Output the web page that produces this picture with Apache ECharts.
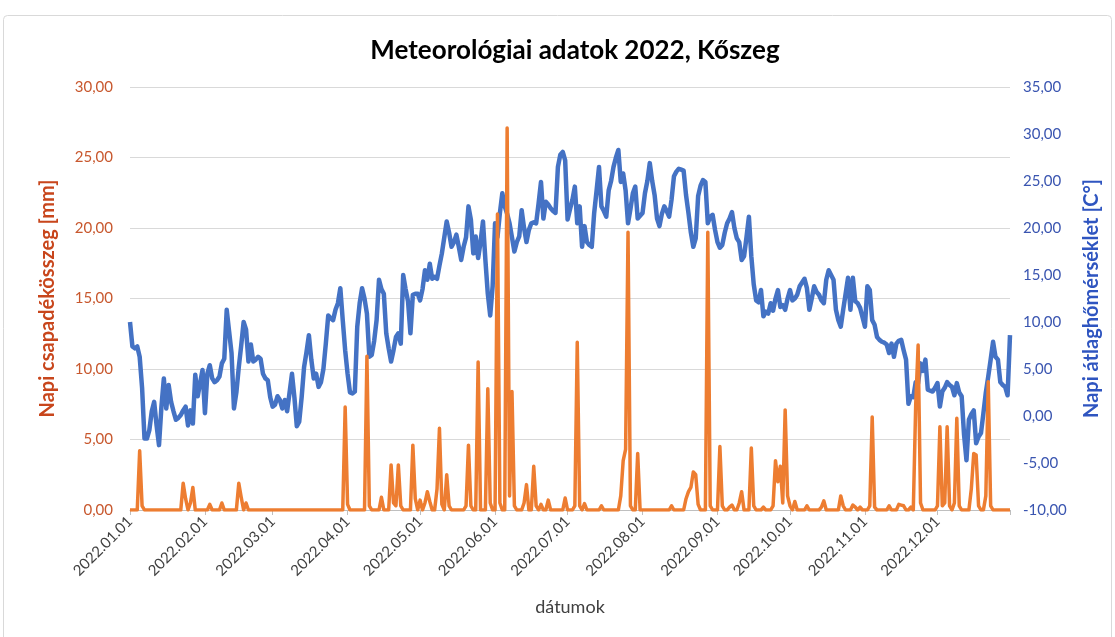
<!DOCTYPE html>
<html>
<head>
<meta charset="utf-8">
<title>Meteorológiai adatok 2022, Kőszeg</title>
<script src="https://cdn.jsdelivr.net/npm/echarts@6/dist/echarts.min.js"></script>
<style>
  html, body { margin: 0; padding: 0; background: #ffffff; }
  #chart { width: 1115px; height: 637px; }
</style>
</head>
<body>
<div id="chart"></div>
<script>
// Daily mean temperature [°C], one array per month
const tempJan = [10.0,7.4,7.2,7.4,6.3,3.0,-2.4,-2.4,-1.5,0.5,1.5,-1.0,-3.1,1.0,4.0,0.8,3.3,1.5,0.5,-0.4,-0.2,0.1,0.6,1.0,-1.0,0.6,-0.8,4.4,2.1,3.5,4.9];
const tempFeb = [0.3,4.5,5.4,4.0,3.6,3.8,4.2,5.6,6.1,11.3,9.0,6.7,0.8,2.5,5.2,7.5,10.0,9.2,5.8,7.6,5.8,6.0,6.3,6.1,4.5,4.0,3.8,2.0];
const tempMar = [1.0,1.2,2.1,1.7,0.8,1.7,0.5,2.5,4.5,2.0,-1.1,-0.6,2.0,5.2,6.8,8.6,6.0,4.0,4.5,3.1,3.6,5.0,7.7,10.7,10.4,10.2,11.3,12.0,13.6,10.2,7.0];
const tempApr = [4.5,2.5,2.4,2.6,9.5,12.0,13.6,12.5,10.9,6.3,6.5,8.0,10.2,14.5,13.5,13.0,8.8,7.2,5.8,7.0,8.4,8.8,7.7,15.0,13.5,12.2,8.8,12.9,13.0,13.0];
const tempMay = [12.3,13.5,15.5,14.5,16.2,14.6,14.8,14.6,16.0,17.3,19.0,20.7,19.5,18.0,18.5,19.3,18.0,16.6,18.0,19.0,22.3,20.9,17.3,19.1,16.8,18.5,20.7,16.6,13.0,10.7,13.8];
const tempJun = [20.5,19.0,21.6,23.7,22.3,21.5,20.5,19.0,17.5,18.5,19.1,21.9,20.0,18.5,19.8,20.5,20.6,20.5,22.6,24.9,21.0,22.8,22.5,22.1,21.8,21.6,26.5,27.8,28.1,27.2];
const tempJul = [20.9,22.0,23.0,24.4,20.5,22.3,18.0,20.2,18.5,18.2,18.0,21.6,24.0,26.5,22.3,21.8,21.2,24.0,25.0,26.5,27.5,28.3,24.9,25.8,24.0,20.5,22.0,23.7,24.4,21.0,21.3];
const tempAug = [21.6,23.7,25.0,26.9,25.0,23.5,21.0,20.2,21.5,22.3,21.8,21.2,23.0,25.5,26.0,26.3,26.2,26.1,23.5,21.6,19.5,18.0,18.9,23.4,24.5,25.1,24.9,20.5,21.2,21.4,19.8];
const tempSep = [18.5,17.9,18.2,19.5,20.5,21.0,21.7,20.0,18.9,18.5,16.6,17.0,19.0,21.2,17.0,14.0,12.3,12.1,13.4,10.6,11.1,10.9,12.0,11.2,12.5,13.4,11.6,11.8,11.3,12.5];
const tempOct = [13.4,12.3,12.5,12.9,13.8,14.2,14.6,13.6,11.3,12.5,13.8,13.2,12.9,12.3,12.0,14.5,15.5,15.0,14.5,11.3,10.2,9.5,11.3,13.0,14.7,11.3,14.7,12.2,12.0,11.5,10.5];
const tempNov = [9.5,13.8,13.4,10.2,9.7,8.4,8.1,7.9,7.8,7.6,6.7,7.7,6.3,7.7,8.0,8.1,7.0,6.0,1.3,2.1,2.0,3.6,3.5,5.6,4.8,6.0,2.8,2.7,2.6,3.0];
const tempDec = [3.5,1.0,2.6,3.0,3.6,3.3,3.1,2.2,3.5,2.5,2.1,-2.0,-4.7,-0.4,0.2,0.6,-2.9,-2.2,-1.8,0.3,2.5,4.2,6.0,7.9,6.3,6.0,3.6,3.3,3.1,2.2,8.6];

// Daily precipitation [mm], one array per month
const rainJan = [0,0,0,0,4.2,0.3,0,0,0,0, 0,0,0,0,0,0,0,0,0,0, 0,0,1.9,0.8,0,0.5,1.6,0,0,0, 0];
const rainFeb = [0,0,0.4,0,0,0,0,0.5,0,0, 0,0,0,0,1.9,0.9,0,0.5,0,0, 0,0,0,0,0,0,0,0];
const rainMar = [0,0,0,0,0,0,0,0,0,0, 0,0,0,0,0,0,0,0,0,0, 0,0,0,0,0,0,0,0,0,0, 7.3];
const rainApr = [0.4,0,0,0,0,0,0,0,10.9,0.3, 0,0,0,0,0.9,0,0,0,3.2,0.5, 0.3,3.2,0.3,0,0,0,0,4.6,0.8,0];
const rainMay = [0.7,0,0.5,1.3,0.6,0,0,1.5,5.8,0.4, 0,2.5,0.3,0,0,0,0,0,0,0.3, 4.6,0.3,0,0,10.5,0,0,0,8.6,0.5, 0];
const rainJun = [0,21.0,0.5,0,0,27.1,1.0,8.4,0.3,0, 0,0,0.5,1.8,0,0,3.1,0.3,0,0.4, 0,0,0.7,0,0,0,0,0,0,0.85];
const rainJul = [0,0,0,0.3,11.9,0.3,0,0.45,0,0, 0,0,0,0,0.3,0,0,0,0,0, 0,0,1.0,3.5,4.3,19.7,0.3,0,0,4.0, 0];
const rainAug = [0,0,0,0,0,0,0,0,0,0, 0,0,0.3,0,0,0,0,0,0.8,1.3, 1.6,2.7,2.5,0.4,0,0,0,19.7,0.3,0, 0];
const rainSep = [0,4.5,0.3,0,0,0.2,0.35,0,0,0.5, 1.3,0,0,0,4.4,0.3,0,0,0,0.2, 0,0,0,0.3,3.5,2.0,3.1,0.5,7.1,1.0];
const rainOct = [0.3,0,0.6,0,0,0,0,0.3,0,0, 0,0,0,0.2,0.65,0,0,0,0,0, 0,1.0,0.3,0,0,0,0.35,0.2,0,0.2, 0];
const rainNov = [0,0,0.3,6.6,0.2,0,0,0,0,0, 0.3,0,0,0,0.4,0.35,0.3,0,0,0.2, 0,7.5,11.7,0.5,0,0,0,0,0,0];
const rainDec = [0.3,5.9,0.3,0.5,5.9,0.3,0,0.5,6.5,0.3, 0,0,0,0,1.5,4.0,3.9,0.3,0,0, 1.0,9.1,0.3,0,0,0,0,0,0,0, 0];

const temperature = [].concat(tempJan, tempFeb, tempMar, tempApr, tempMay, tempJun,
                              tempJul, tempAug, tempSep, tempOct, tempNov, tempDec);
const precipitation = [].concat(rainJan, rainFeb, rainMar, rainApr, rainMay, rainJun,
                                rainJul, rainAug, rainSep, rainOct, rainNov, rainDec);

// Category labels: every day of 2022 as YYYY.MM.DD
const dates = [];
for (let t = Date.UTC(2022, 0, 1); t <= Date.UTC(2022, 11, 31); t += 86400000) {
  const d = new Date(t);
  const mm = String(d.getUTCMonth() + 1).padStart(2, '0');
  const dd = String(d.getUTCDate()).padStart(2, '0');
  dates.push('2022.' + mm + '.' + dd);
}

const fmt = v => v.toFixed(2).replace('.', ',');
const FONT = 'Lato, "Open Sans", sans-serif';
const isMonthStart = (i, v) => v.endsWith('.01');

const chart = echarts.init(document.getElementById('chart'), null, { renderer: 'canvas' });
chart.setOption({
  animation: false,
  backgroundColor: '#ffffff',
  graphic: [{
    type: 'rect',
    shape: { x: 3.5, y: 15.5, width: 1108, height: 640, r: 4 },
    style: { fill: 'none', stroke: '#d9d9d9', lineWidth: 1 },
    silent: true
  }],
  title: {
    text: 'Meteorológiai adatok 2022, Kőszeg',
    left: 570,
    textAlign: 'center',
    top: 33,
    textStyle: { fontFamily: FONT, fontWeight: 'bold', fontSize: 26, color: '#000000' }
  },
  grid: { left: 130, right: 105, top: 87, bottom: 127, containLabel: false },
  xAxis: {
    type: 'category',
    data: dates,
    boundaryGap: false,
    name: 'dátumok',
    nameLocation: 'middle',
    nameGap: 88,
    nameTextStyle: { fontFamily: FONT, fontSize: 18, color: '#404040' },
    axisLine: { show: true, lineStyle: { color: '#bfbfbf', width: 1 } },
    axisTick: {
      show: true, length: 5,
      interval: (i, v) => v.endsWith('.01') || i === dates.length - 1,
      lineStyle: { color: '#bfbfbf' }
    },
    axisLabel: {
      interval: isMonthStart,
      rotate: 45,
      margin: 9,
      fontFamily: FONT, fontSize: 15, color: '#404040'
    },
    splitLine: { show: false }
  },
  yAxis: [
    {
      type: 'value',
      min: 0, max: 30, interval: 5,
      position: 'left',
      name: 'Napi csapadékösszeg [mm]',
      nameLocation: 'middle',
      nameGap: 72,
      nameRotate: 90,
      nameTextStyle: { fontFamily: FONT, fontWeight: 'bold', fontSize: 20, color: '#c8461c' },
      axisLine: { show: false },
      axisTick: { show: false },
      axisLabel: { formatter: fmt, margin: 17, fontFamily: FONT, fontSize: 15, color: '#c8582e' },
      splitLine: { show: true, lineStyle: { color: '#d9d9d9', width: 1 } }
    },
    {
      type: 'value',
      min: -10, max: 35, interval: 5,
      position: 'right',
      name: 'Napi átlaghőmérséklet [C°]',
      nameLocation: 'middle',
      nameGap: 72,
      nameRotate: 90,
      nameTextStyle: { fontFamily: FONT, fontWeight: 'bold', fontSize: 20, color: '#2f55c0' },
      axisLine: { show: false },
      axisTick: { show: false },
      axisLabel: { formatter: fmt, margin: 13, fontFamily: FONT, fontSize: 15, color: '#3a55b0' },
      splitLine: { show: false }
    }
  ],
  series: [
    {
      name: 'Napi átlaghőmérséklet',
      type: 'line',
      yAxisIndex: 1,
      data: temperature,
      showSymbol: false,
      symbol: 'none',
      lineStyle: { color: '#4472c4', width: 4.5, join: 'round' },
      z: 2
    },
    {
      name: 'Napi csapadékösszeg',
      type: 'line',
      yAxisIndex: 0,
      data: precipitation,
      showSymbol: false,
      symbol: 'none',
      lineStyle: { color: '#ed7d31', width: 3.5, join: 'round' },
      z: 3
    }
  ]
});
</script>
</body>
</html>
